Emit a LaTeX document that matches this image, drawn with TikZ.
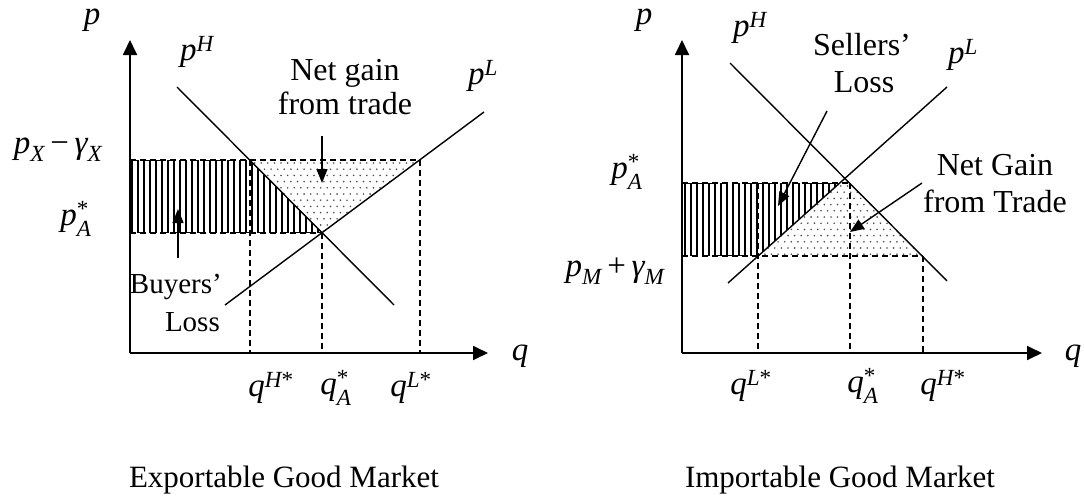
\documentclass[tikz,border=0pt]{standalone}
\usepackage{fontspec}
\setmainfont{Liberation Serif}
\usepackage{amsmath}
\usetikzlibrary{arrows.meta}
\newcommand{\vi}[1]{\text{\itshape #1}}
\newcommand{\stx}{\text{*}}
\newcommand{\mns}{\mathbin{\text{−}}}
\newcommand{\pls}{\mathbin{\text{+}}}
\begin{document}
\begin{tikzpicture}[x=1pt,y=-1pt,
  axis/.style={line width=1.8pt,-{Triangle[length=15pt,width=14pt]}},
  curve/.style={line width=1.4pt},
  guide/.style={line width=1.3pt,dash pattern=on 6pt off 4pt},
  lbl/.style={font=\fontsize{32}{37}\selectfont,inner sep=0pt},
  slbl/.style={font=\fontsize{29}{34}\selectfont,inner sep=0pt},
  mlbl/.style={font=\fontsize{33}{38}\selectfont,inner sep=0pt},
  ttl/.style={font=\fontsize{31}{36}\selectfont,inner sep=0pt},
  ptr/.style={line width=1.4pt,-{Triangle[length=14pt,width=11pt]}},
  meander/.style={line width=1.2pt},
  dotc/.style={fill=black!70}
]
\useasboundingbox (0,0) rectangle (1084,498);

% ================= LEFT PANEL =================
\coordinate (LO) at (130,353);
\coordinate (LYt) at (130,40);
\coordinate (LXt) at (488,353);
\coordinate (LH1) at (177,87);
\coordinate (LH2) at (394,305);
\coordinate (LL1) at (225,305);
\coordinate (LL2) at (484,112);
\coordinate (LE) at (322,233);
\coordinate (LA) at (250,160);
\coordinate (LB) at (420,160);
\coordinate (LTy) at (130,160);
\coordinate (LBy) at (130,233);

% dotted triangle
\begin{scope}
\clip (LA) -- (LB) -- (LE) -- cycle;
\foreach \r in {0,...,12}{\foreach \c in {0,...,27}{
  \fill[dotc] ({248+\c*6.6+mod(\r,2)*3.3},{163+\r*6.2}) circle (0.9);}}
\end{scope}
% meander hatch
\begin{scope}
\clip (LTy) -- (LA) -- (LE) -- (LBy) -- cycle;
\draw[meander] (132,232.4) \foreach \k in {0,...,16}{ -- ++(0,-71.8) -- ++(6,0) -- ++(0,71.8) -- ++(6,0)};
\end{scope}

\draw[guide] (LTy) -- (LB);
\draw[guide] (LBy) -- (LE);
\draw[guide] (LA) -- (LA |- LO);
\draw[guide] (LE) -- (LE |- LO);
\draw[guide] (LB) -- (LB |- LO);

\draw[curve] (LH1) -- (LH2);
\draw[curve] (LL1) -- (LL2);
\draw[axis] (LO) -- (LYt);
\draw[axis] (LO) -- (LXt);

\node[mlbl] (lp) at (92,20) {$\vi{p}$};
\node[mlbl] (lq) at (520,356) {$\vi{q}$};
\node[mlbl] (lpH) at (197,52) {$\vi{p}^{\vi{H}}$};
\node[mlbl] (lpL) at (483,76) {$\vi{p}^{\vi{L}}$};
\node[mlbl] (lpx) at (58,150) {$\vi{p}_{\vi{X}}\mns\vi{γ}_{\vi{X}}$};
\node[mlbl] (lpa) at (76,219) {$\vi{p}_{\vi{A}}^{\stx}$};
\node[mlbl] (lqH) at (271,388) {$\vi{q}^{\vi{H}\stx}$};
\node[mlbl] (lqA) at (336,388) {$\vi{q}_{\vi{A}}^{\stx}$};
\node[mlbl] (lqL) at (411,388) {$\vi{q}^{\vi{L}\stx}$};

\node[lbl,anchor=base] (ng1) at (345,80) {Net gain};
\node[lbl,anchor=base] (ng2) at (345,114) {from trade};
\node[slbl,anchor=base east] (bl1) at (222,293) {Buyers’};
\node[slbl,anchor=base east] (bl2) at (220,331) {Loss};

\coordinate (ngs) at (322,136);
\coordinate (ngt) at (322,183);
\draw[ptr] (ngs) -- (ngt);
\coordinate (bls) at (178,258);
\coordinate (blt) at (178,209);
\draw[ptr] (bls) -- (blt);

\node[ttl,anchor=base] (t1) at (284,487) {Exportable Good Market};

% ================= RIGHT PANEL =================
\coordinate (RO) at (682,353);
\coordinate (RYt) at (682,40);
\coordinate (RXt) at (1042,353);
\coordinate (RH1) at (730,63);
\coordinate (RH2) at (947,281);
\coordinate (RL1) at (728,283);
\coordinate (RL2) at (947,87);
\coordinate (RA) at (850,183);
\coordinate (RC) at (840,183);
\coordinate (RLb) at (758,256);
\coordinate (RHb) at (923,256);
\coordinate (RTy) at (682,183);
\coordinate (RBy) at (682,256);

\begin{scope}
\clip (RLb) -- (RHb) -- (RA) -- (RC) -- cycle;
\foreach \r in {0,...,12}{\foreach \c in {0,...,27}{
  \fill[dotc] ({755+\c*6.6+mod(\r,2)*3.3},{186+\r*6.2}) circle (0.9);}}
\end{scope}
\begin{scope}
\clip (RTy) -- (RC) -- (RLb) -- (RBy) -- cycle;
\draw[meander] (685,255.4) \foreach \k in {0,...,14}{ -- ++(0,-71.8) -- ++(6,0) -- ++(0,71.8) -- ++(6,0)};
\end{scope}

\draw[guide] (RTy) -- (RA);
\draw[guide] (RBy) -- (RHb);
\draw[guide] (RLb |- RA) -- (RLb |- RO);
\draw[guide] (RA) -- (RA |- RO);
\draw[guide] (RHb) -- (RHb |- RO);

\draw[curve] (RH1) -- (RH2);
\draw[curve] (RL1) -- (RL2);
\draw[axis] (RO) -- (RYt);
\draw[axis] (RO) -- (RXt);

\node[mlbl] (rp) at (644,20) {$\vi{p}$};
\node[mlbl] (rq) at (1073,356) {$\vi{q}$};
\node[mlbl] (rpH) at (750,28) {$\vi{p}^{\vi{H}}$};
\node[mlbl] (rpL) at (963,55) {$\vi{p}^{\vi{L}}$};
\node[mlbl] (rpa) at (627,172) {$\vi{p}_{\vi{A}}^{\stx}$};
\node[mlbl] (rpm) at (615,271) {$\vi{p}_{\vi{M}}\pls\vi{γ}_{\vi{M}}$};
\node[mlbl] (rqL) at (751,386) {$\vi{q}^{\vi{L}\stx}$};
\node[mlbl] (rqA) at (863,386) {$\vi{q}_{\vi{A}}^{\stx}$};
\node[mlbl] (rqH) at (943,386) {$\vi{q}^{\vi{H}\stx}$};

\node[lbl,anchor=base] (sl1) at (862,55) {Sellers’};
\node[lbl,anchor=base] (sl2) at (864,92) {Loss};
\node[lbl,anchor=base] (rg1) at (995,175) {Net Gain};
\node[lbl,anchor=base] (rg2) at (995,212) {from Trade};

\coordinate (sls) at (827,111);
\coordinate (slt) at (778,206);
\draw[ptr] (sls) -- (slt);
\coordinate (rgs) at (922,183);
\coordinate (rgt) at (850,232);
\draw[ptr] (rgs) -- (rgt);

\node[ttl,anchor=base] (t2) at (840,487) {Importable Good Market};
\end{tikzpicture}
\end{document}
